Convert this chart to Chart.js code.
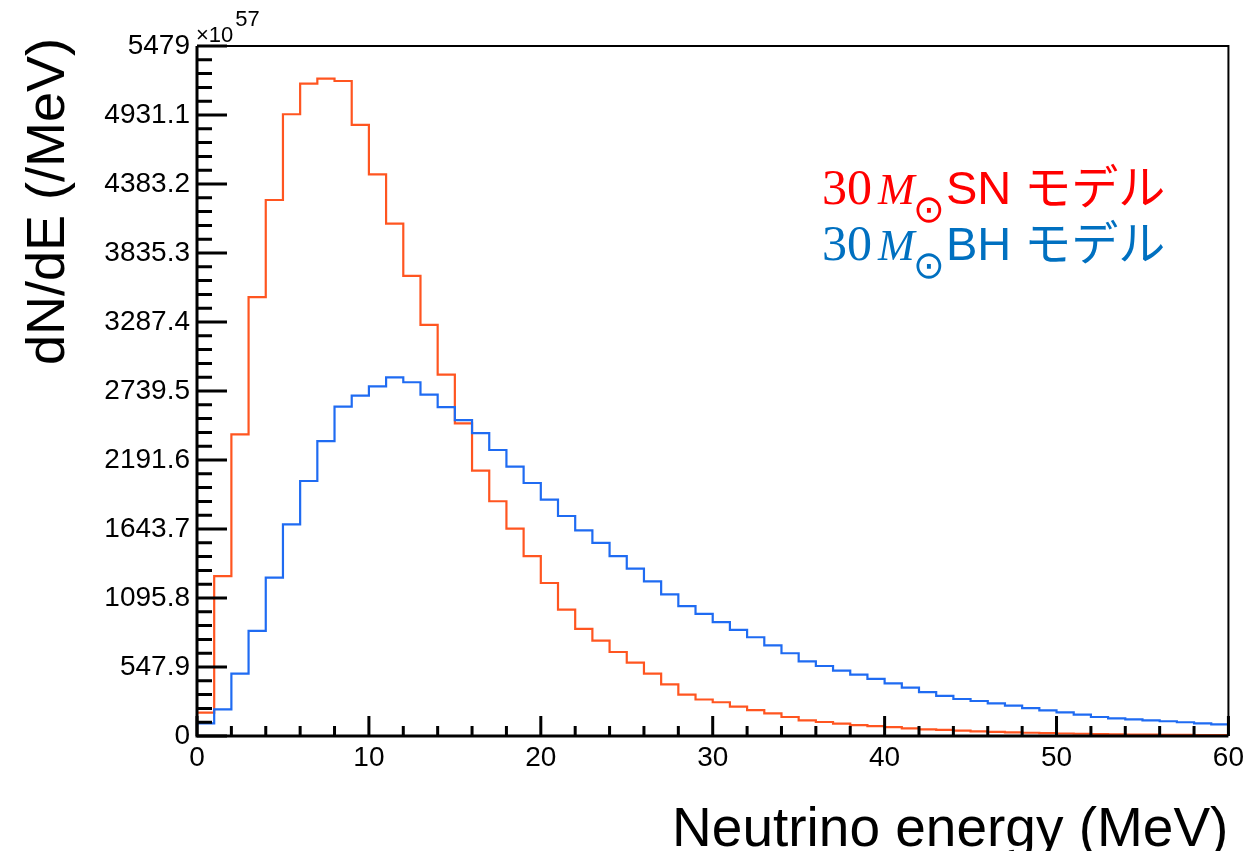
<!DOCTYPE html>
<html><head><meta charset="utf-8">
<script src="https://cdn.jsdelivr.net/npm/chart.js@4.4.0/dist/chart.umd.min.js"></script>
<style>html,body{margin:0;padding:0;background:#fff;} canvas{display:block;}</style>
</head><body>
<canvas id="c" width="1249" height="851"></canvas>
<script>
// Bin low edges (MeV), bin width 1 MeV
const binLowEdges = [0,1,2,3,4,5,6,7,8,9,10,11,12,13,14,15,16,17,18,19,20,21,22,23,24,25,26,27,28,29,
  30,31,32,33,34,35,36,37,38,39,40,41,42,43,44,45,46,47,48,49,50,51,52,53,54,55,56,57,58,59];
const binWidth = 1;
// dN/dE (x10^57 /MeV)
const snModel = [185,1270,2395,3485,4256,4937,5180,5220,5201,4852,4460,4068,3654,3264,2869,2483,2108,1864,1646,1429,
  1215,1003,850,757,667,582,495,410,328,290,268,233,206,180,151,124,111,98,87,79,
  71,61,53,48,42,37,33,29,26,23,20,18,16,14,12,11,10,9,8,7];
const bhModel = [100,212,495,834,1257,1681,2025,2342,2615,2702,2777,2848,2809,2710,2611,2508,2405,2271,2139,2009,
  1877,1747,1633,1533,1429,1329,1228,1125,1032,969,905,842,784,720,657,593,556,519,487,453,
  418,384,349,318,294,278,259,241,222,204,188,169,151,140,132,124,117,109,101,93];
const yTickValues = [0,547.9,1095.8,1643.7,2191.6,2739.5,3287.4,3835.3,4383.2,4931.1,5479];
const yTickLabels = ['0','547.9','1095.8','1643.7','2191.6','2739.5','3287.4','3835.3','4383.2','4931.1','5479'];
const xTickValues = [0,10,20,30,40,50,60];
const xTickLabels = ['0','10','20','30','40','50','60'];
const xTitle = 'Neutrino energy (MeV)';
const yTitle = 'dN/dE (/MeV)';
const yExponent = ['×10','57'];
const legendNames = [['30','M','⊙','SN モデル'],['30','M','⊙','BH モデル']];
const lineColors = ['#ff5520','#1f6bf2'];
const legendColors = ['#ff0000','#0070c0'];

const SANS = "'Liberation Sans', Arial, Helvetica, 'Noto Sans CJK JP', sans-serif";
const SERIF = "'Liberation Serif', 'DejaVu Serif', serif";

function toSteps(values){
  const n = values.length;
  const pts = [{x: binLowEdges[0], y: 0}];
  for (let i = 0; i < n; i++) pts.push({x: binLowEdges[i], y: values[i]});
  pts.push({x: binLowEdges[n-1] + binWidth, y: values[n-1]});
  pts.push({x: binLowEdges[n-1] + binWidth, y: 0});
  return pts;
}

const rootFrame = {
  id: 'rootFrame',
  afterDraw(chart){
    const ctx = chart.ctx;
    const xs = chart.scales.x, ys = chart.scales.y;
    const L = chart.chartArea.left, R = chart.chartArea.right, T = chart.chartArea.top, B = chart.chartArea.bottom;
    ctx.save();
    ctx.strokeStyle = '#000';
    ctx.lineWidth = 2;
    ctx.beginPath();
    ctx.moveTo(L, T); ctx.lineTo(R, T); ctx.lineTo(R, B);
    ctx.stroke();
    ctx.lineWidth = 3;
    ctx.beginPath();
    ctx.moveTo(L, T); ctx.lineTo(L, B); ctx.lineTo(R, B);
    ctx.stroke();
    ctx.beginPath();
    for (let i = 0; i < yTickValues.length; i++){
      const py = ys.getPixelForValue(yTickValues[i]);
      ctx.moveTo(L, py); ctx.lineTo(L + 30, py);
      if (i < yTickValues.length - 1){
        for (let k = 1; k < 5; k++){
          const v = yTickValues[i] + (yTickValues[i+1]-yTickValues[i]) * k / 5;
          const pm = ys.getPixelForValue(v);
          ctx.moveTo(L, pm); ctx.lineTo(L + 15, pm);
        }
      }
    }
    for (let i = 0; i < xTickValues.length; i++){
      const px = xs.getPixelForValue(xTickValues[i]);
      ctx.moveTo(px, B); ctx.lineTo(px, B - 20);
      if (i < xTickValues.length - 1){
        for (let k = 1; k < 5; k++){
          const v = xTickValues[i] + (xTickValues[i+1]-xTickValues[i]) * k / 5;
          const pm = xs.getPixelForValue(v);
          ctx.moveTo(pm, B); ctx.lineTo(pm, B - 10);
        }
      }
    }
    ctx.stroke();

    ctx.fillStyle = '#000';
    ctx.textAlign = 'left'; ctx.textBaseline = 'alphabetic';
    ctx.font = '22px ' + SANS;
    ctx.fillText(yExponent[0], L - 1, T - 4);
    const w10 = ctx.measureText(yExponent[0]).width;
    ctx.font = '22px ' + SANS;
    ctx.fillText(yExponent[1], L + w10 + 1, T - 20);

    ctx.font = '55px ' + SANS;
    ctx.textAlign = 'right';
    ctx.fillText(xTitle, R, 846);
    ctx.save();
    ctx.translate(64, 38);
    ctx.rotate(-Math.PI/2);
    ctx.textAlign = 'right';
    ctx.font = '54px ' + SANS;
    ctx.fillText(yTitle, 0, 0);
    ctx.restore();

    const baselines = [204, 260];
    for (let j = 0; j < legendNames.length; j++){
      const parts = legendNames[j];
      const yb = baselines[j];
      ctx.fillStyle = legendColors[j];
      ctx.textAlign = 'left';
      ctx.font = '50px ' + SERIF;
      ctx.fillText(parts[0], 822, yb);
      ctx.font = 'italic 44px ' + SERIF;
      ctx.fillText(parts[1], 878, yb);
      ctx.font = '38px ' + "'DejaVu Sans', sans-serif";
      ctx.textAlign = 'center';
      ctx.fillText(parts[2], 929, yb + 18);
      ctx.textAlign = 'left';
      ctx.font = '47px ' + SANS;
      ctx.fillText(parts[3], 946, yb);
    }
    ctx.restore();
  }
};

new Chart(document.getElementById('c'), {
  type: 'line',
  data: {
    datasets: [
      { label: 'BH', data: toSteps(bhModel), borderColor: lineColors[1], borderWidth: 2.2, stepped: 'before', pointRadius: 0, fill: false, order: 0 },
      { label: 'SN', data: toSteps(snModel), borderColor: lineColors[0], borderWidth: 2.2, stepped: 'before', pointRadius: 0, fill: false, order: 1 }
    ]
  },
  options: {
    responsive: false,
    animation: false,
    devicePixelRatio: 1,
    layout: { padding: { top: 46, right: 20, left: 0, bottom: 0 } },
    plugins: { legend: { display: false }, tooltip: { enabled: false } },
    scales: {
      x: {
        type: 'linear', min: 0, max: 60,
        grid: { display: false, drawTicks: false }, border: { display: false },
        afterBuildTicks: s => { s.ticks = xTickValues.map(v => ({ value: v })); },
        afterFit: s => { s.height = 115; },
        ticks: { color: '#000', font: { family: SANS, size: 28 }, padding: 5, maxRotation: 0,
          callback: (v, i) => xTickLabels[i] }
      },
      y: {
        type: 'linear', min: 0, max: 5479,
        grid: { display: false, drawTicks: false }, border: { display: false },
        afterBuildTicks: s => { s.ticks = yTickValues.map(v => ({ value: v })); },
        afterFit: s => { s.width = 197; },
        ticks: { color: '#000', font: { family: SANS, size: 28 }, padding: 7,
          callback: (v, i) => yTickLabels[i] }
      }
    }
  },
  plugins: [rootFrame]
});
</script>
</body></html>
